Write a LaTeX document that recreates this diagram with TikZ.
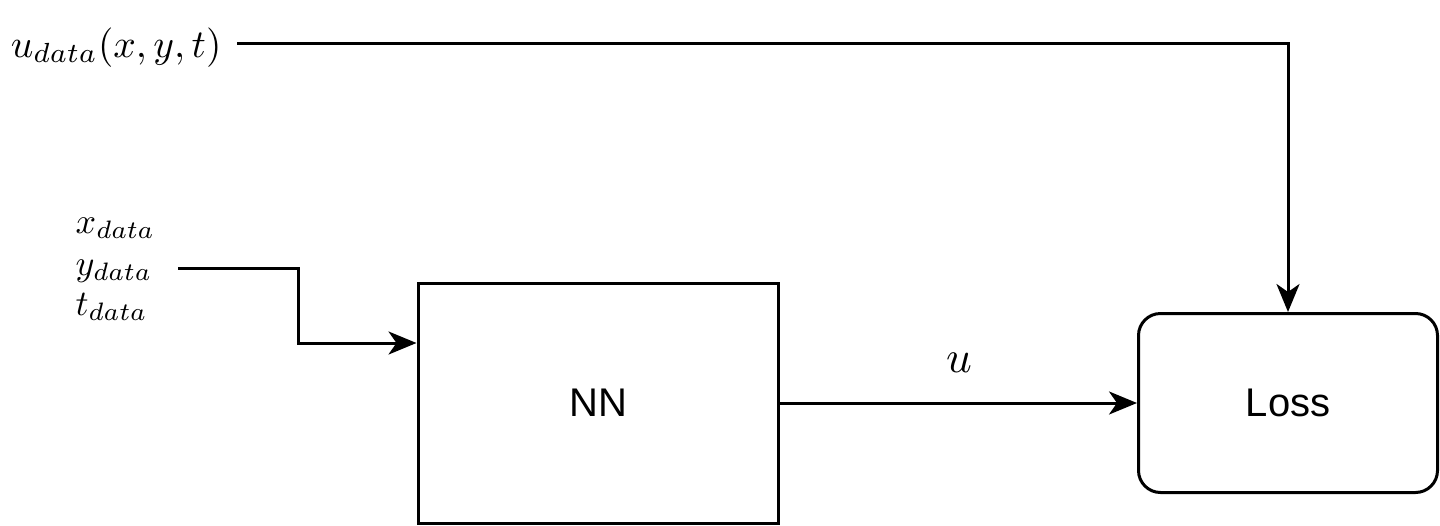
\documentclass[tikz,border=0pt]{standalone}
\usepackage{fontspec}
\setsansfont{Liberation Sans}
\usetikzlibrary{arrows.meta}
\begin{document}
\begin{tikzpicture}[x=1pt,y=-1pt,
  conn/.style={line width=3pt,-{Stealth[length=28pt,width=23pt,inset=8pt]}},
  box/.style={draw,line width=3pt,inner sep=0pt,font=\fontsize{40}{48}\selectfont\sffamily},
  mlabel/.style={inner sep=0pt,font=\fontsize{10}{12}\selectfont}]
\useasboundingbox (0,0) rectangle (1440,525);
\node[box,minimum width=360pt,minimum height=240pt] (nn) at (598,403) {NN};
\node[box,rounded corners=22pt,minimum width=299pt,minimum height=179pt] (loss) at (1288,403) {Loss};
\node[mlabel,scale=3.95,anchor=base west] (ud) at (10,57) {$u_{data}(x,y,t)$};
\node[mlabel,scale=3.6,anchor=base west] (xd) at (75,233) {$x_{data}$};
\node[mlabel,scale=3.6,anchor=base west] (yd) at (75,275) {$y_{data}$};
\node[mlabel,scale=3.6,anchor=base west] (td) at (75,315) {$t_{data}$};
\node[mlabel,scale=4.5,anchor=base] (ulab) at (959,372) {$u$};
\coordinate (ustart) at (237,43);
\coordinate (instart) at (178,268);
\draw[conn] (ustart) -| (loss.north);
\draw[conn] (instart) -- (298,268) |- (nn.west |- 0,343);
\draw[conn] (nn.east) -- (loss.west);
\end{tikzpicture}
\end{document}
